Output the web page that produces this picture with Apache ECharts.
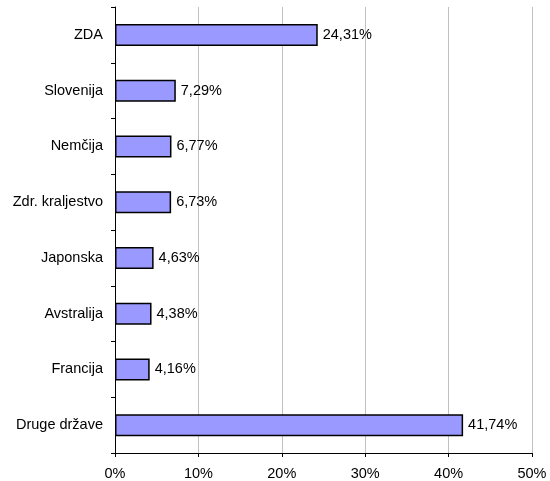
<!DOCTYPE html>
<html>
<head>
<meta charset="utf-8">
<script src="https://cdn.jsdelivr.net/npm/echarts@6/dist/echarts.min.js"></script>
<style>
html,body{margin:0;padding:0;background:#fff;}
#c{width:550px;height:481px;}
</style>
</head>
<body>
<div id="c"></div>
<script>
const categories = ['ZDA', 'Slovenija', 'Nemčija', 'Zdr. kraljestvo', 'Japonska', 'Avstralija', 'Francija', 'Druge države'];
const shares = [24.31, 7.29, 6.77, 6.73, 4.63, 4.38, 4.16, 41.74];
const xTicks = [0, 10, 20, 30, 40, 50];

const chart = echarts.init(document.getElementById('c'), null, {renderer: 'canvas'});
const font = 'Liberation Sans, Arial, sans-serif';
const fs = 14.5;
chart.setOption({
  animation: false,
  backgroundColor: '#ffffff',
  grid: {left: 115, right: 18, top: 7, bottom: 28, containLabel: false},
  xAxis: {
    type: 'value',
    min: xTicks[0],
    max: xTicks[xTicks.length - 1],
    interval: xTicks[1] - xTicks[0],
    axisLine: {show: true, lineStyle: {color: '#000', width: 1}},
    axisTick: {show: true, length: 4, lineStyle: {color: '#000'}},
    axisLabel: {color: '#000', fontFamily: font, fontSize: fs, margin: 13, formatter: v => v + '%'},
    splitLine: {show: true, lineStyle: {color: '#c0c0c0', width: 1}}
  },
  yAxis: {
    type: 'category',
    data: categories,
    inverse: true,
    axisLine: {show: true, lineStyle: {color: '#000', width: 1}},
    axisTick: {show: true, length: 4, alignWithLabel: false, lineStyle: {color: '#000'}},
    axisLabel: {color: '#000', fontFamily: font, fontSize: fs, margin: 12},
    splitLine: {show: false}
  },
  series: [{
    type: 'bar',
    data: shares,
    barWidth: 22,
    itemStyle: {color: '#9999ff', borderColor: '#000', borderWidth: 1.5},
    label: {
      show: true,
      position: 'right',
      distance: 5,
      color: '#000',
      fontFamily: font,
      fontSize: fs,
      formatter: p => p.value.toFixed(2).replace('.', ',') + '%'
    }
  }]
});
</script>
</body>
</html>
